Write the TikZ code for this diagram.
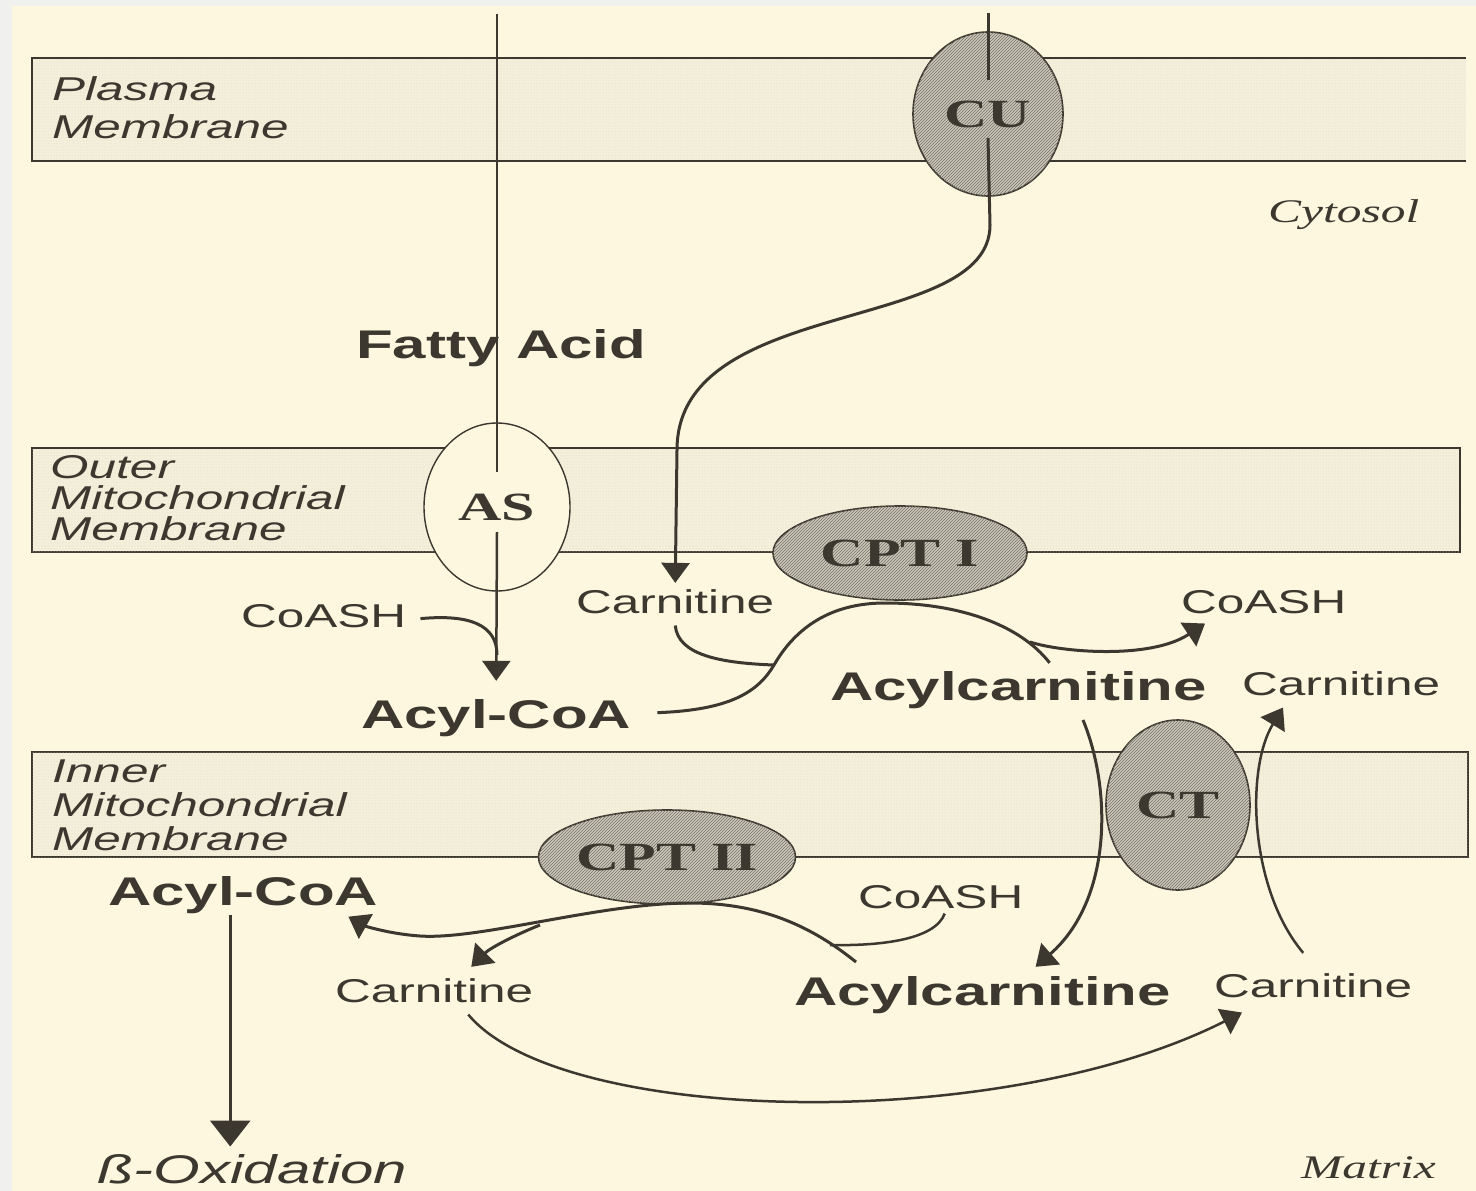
\documentclass[tikz,border=0pt]{standalone}
\usepackage{fontspec}
\usetikzlibrary{arrows.meta,shapes.geometric,patterns}
\newfontfamily\sanslab{Liberation Sans}[FakeStretch=1.5]
\newfontfamily\seriflab{Liberation Serif}[FakeStretch=1.5]
\definecolor{paper}{RGB}{252,247,222}
\definecolor{edge}{RGB}{240,240,238}
\definecolor{ink}{RGB}{60,56,48}
\definecolor{bandfill}{RGB}{244,239,219}
\definecolor{banddot}{RGB}{222,216,196}
\definecolor{hatchfill}{RGB}{204,200,186}
\definecolor{hatchline}{RGB}{118,114,102}
\tikzset{
  membrane/.style={fill=bandfill, postaction={pattern=dots, pattern color=banddot}},
  memline/.style={draw=ink, line width=2.5pt},
  enzyme/.style={ellipse, draw=ink, line width=1.6pt, fill=hatchfill,
    postaction={pattern=north east lines, pattern color=hatchline},
    inner sep=0pt, text=ink, font=\seriflab\bfseries\fontsize{40}{40}\selectfont},
  carrier/.style={ellipse, draw=ink, line width=1.4pt, fill=paper,
    inner sep=0pt, text=ink, font=\seriflab\bfseries\fontsize{40}{40}\selectfont},
  bigbold/.style={anchor=base west, inner sep=0pt, text=ink, font=\sanslab\bfseries\fontsize{40}{44}\selectfont},
  smalllab/.style={anchor=base west, inner sep=0pt, text=ink, font=\sanslab\fontsize{33}{36}\selectfont},
  memlab/.style={anchor=base west, inner sep=0pt, text=ink, align=left, font=\sanslab\itshape\fontsize{33}{#1}\selectfont},
  regionlab/.style={anchor=base west, inner sep=0pt, text=ink, font=\seriflab\itshape\fontsize{33}{36}\selectfont},
  betalab/.style={anchor=base west, inner sep=0pt, text=ink, font=\sanslab\itshape\fontsize{40}{44}\selectfont},
  flow/.style={draw=ink, line width=3pt},
  arrowed/.style={flow, -{Triangle[width=28pt,length=20pt]}},
  bigarrow/.style={flow, -{Triangle[width=40pt,length=26pt]}},
}
\begin{document}
\begin{tikzpicture}[x=1pt,y=-1pt]
\useasboundingbox (0,0) rectangle (1476,1191);
\fill[edge] (0,0) rectangle (1476,1191);
\fill[paper] (12,6) rectangle (1476,1191);

% membranes
\fill[membrane] (32,58) rectangle (1466,161);
\draw[memline] (1466,58) -- (32,58) -- (32,161) -- (1466,161);
\draw[membrane, memline] (32,448) rectangle (1460,552);
\draw[membrane, memline] (32,752) rectangle (1468,857);

% labels sit on the baseline of their last line
\node[memlab=38] (pm) at (52,138) {Plasma\\Membrane};
\node[memlab=31] (om) at (50,540) {Outer\\Mitochondrial\\Membrane};
\node[memlab=34] (im) at (52,850) {Inner\\Mitochondrial\\Membrane};
\node[regionlab] (cyto) at (1268,222) {Cytosol};
\node[regionlab] (matrix) at (1301,1178) {Matrix};

% transporters and enzymes
\node[enzyme, minimum width=150pt, minimum height=164pt] (cu) at (988,114) {CU};
\node[carrier, minimum width=146pt, minimum height=168pt] (as) at (497,507) {AS};
\node[enzyme, minimum width=254pt, minimum height=94pt] (cpt1) at (900,553) {CPT I};
\node[enzyme, minimum width=257pt, minimum height=94pt] (cpt2) at (667,857) {CPT II};
\node[enzyme, minimum width=144pt, minimum height=170pt] (ct) at (1178,805) {CT};

% metabolites
\node[bigbold] (fatty) at (356,358) {Fatty Acid};
\node[smalllab] (coashA) at (241,627) {CoASH};
\node[smalllab] (carnA) at (576,613) {Carnitine};
\node[bigbold] (acylA) at (361,728) {Acyl-CoA};
\node[smalllab] (coashB) at (1181,613) {CoASH};
\node[bigbold] (acarnA) at (830,700) {Acylcarnitine};
\node[smalllab] (carnB) at (1242,695) {Carnitine};
\node[bigbold] (acylB) at (108,905) {Acyl-CoA};
\node[smalllab] (coashC) at (858,908) {CoASH};
\node[smalllab] (carnC) at (335,1002) {Carnitine};
\node[bigbold] (acarnB) at (794,1005) {Acylcarnitine};
\node[smalllab] (carnD) at (1214,997) {Carnitine};
\node[betalab] (beta) at (97,1183) {ß-Oxidation};

% free ends and junctions
\coordinate (fa in) at (497,14);
\coordinate (cu in) at (988,13);
\coordinate (cpt1 join) at (774,665);
\coordinate (cpt1 top) at (885,603);
\coordinate (cpt1 fork) at (1030,642);
\coordinate (ct in) at (1083,720);
\coordinate (cpt2 in) at (856,962);
\coordinate (cpt2 top) at (690,903);
\coordinate (cpt2 join) at (830,945);
\coordinate (cpt2 fork) at (540,925);

% fatty acid through AS
\draw[flow, line width=2.5pt] (fa in) -- ([yshift=35pt]as.center);
\draw[arrowed, line width=2.5pt] ([yshift=-25pt]as.center) -- ([yshift=18pt]acylA.north);
\draw[flow] ([xshift=14pt,yshift=-3pt]coashA.east) .. controls (470,614) and (497,625) .. (497,655);

% carnitine uptake
\draw[flow] (cu in) -- ([yshift=34pt]cu.center);
\draw[arrowed] ([yshift=-24pt]cu.center) -- (990,225) .. controls (990,335) and (677,295) .. (677,450) -- ([yshift=6pt]carnA.north);

% CPT I
\draw[flow] ([yshift=-12pt]carnA.south) .. controls (678,655) and (720,663) .. (cpt1 join);
\draw[flow] ([xshift=26pt,yshift=5pt]acylA.east) .. controls (730,710) and (758,692) .. (cpt1 join)
  .. controls (800,620) and (840,603) .. (cpt1 top)
  .. controls (960,603) and (1020,625) .. ([xshift=31pt,yshift=8pt]acarnA.north);
\draw[arrowed] (cpt1 fork) .. controls (1060,652) and (1150,660) .. ([xshift=24pt,yshift=-10pt]coashB.south west);

% CT
\draw[arrowed] (ct in) .. controls (1112,790) and (1112,900) .. ([xshift=53pt,yshift=9pt]acarnB.north);
\draw[arrowed, line width=2.5pt] ([xshift=-10pt,yshift=20pt]carnD.north) .. controls (1250,890) and (1245,770) .. ([xshift=41pt,yshift=-12pt]carnB.south west);

% CPT II
\draw[arrowed] (cpt2 in) .. controls (810,925) and (760,903) .. (cpt2 top)
  .. controls (600,903) and (480,940) .. (420,936)
  .. controls (390,934) and (365,926) .. ([xshift=-30pt,yshift=-22pt]acylB.east);
\draw[arrowed] (cpt2 fork) .. controls (515,935) and (490,948) .. ([xshift=37pt,yshift=11pt]carnC.north);
\draw[flow, line width=2.5pt] ([xshift=4pt,yshift=-5pt]coashC.south) .. controls (935,940) and (880,946) .. (cpt2 join);
\draw[arrowed, line width=2.5pt] ([xshift=34pt,yshift=-12pt]carnC.south) .. controls (560,1125) and (1000,1135) .. ([xshift=28pt,yshift=-15pt]carnD.south west);

% beta oxidation
\draw[bigarrow] ([xshift=-13pt,yshift=-1pt]acylB.south) -- ++(0,232);
\end{tikzpicture}
\end{document}
